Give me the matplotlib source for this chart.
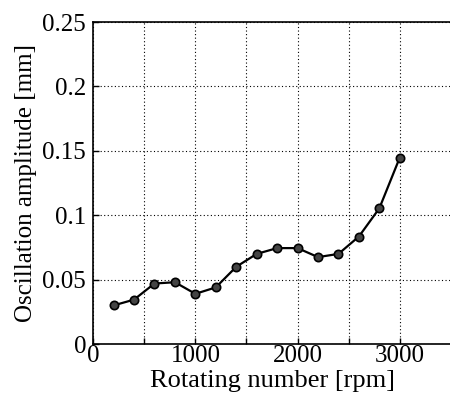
import matplotlib
matplotlib.use("Agg")
import matplotlib.pyplot as plt

plt.rcParams['font.family'] = ['Liberation Serif', 'DejaVu Serif']

rpm = [200, 400, 600, 800, 1000, 1200, 1400, 1600, 1800, 2000,
       2200, 2400, 2600, 2800, 3000]
amplitude = [0.030, 0.0345, 0.047, 0.048, 0.039, 0.044, 0.060, 0.070,
             0.0745, 0.0745, 0.0675, 0.070, 0.0835, 0.1054, 0.1448]

x_ticks = [0, 1000, 2000, 3000]
y_ticks = [0, 0.05, 0.1, 0.15, 0.2, 0.25]
y_tick_labels = ["0", "0.05", "0.1", "0.15", "0.2", "0.25"]

fig = plt.figure(figsize=(4.5, 4.01), dpi=100)
ax = fig.add_axes([0.207, 0.142, 0.795, 0.803])

ax.plot(rpm, amplitude, color="black", linewidth=1.6, marker="o",
        markersize=6, markerfacecolor="#444444", markeredgecolor="black",
        markeredgewidth=1.2, zorder=3)

ax.set_xlim(0, 3500)
ax.set_ylim(0, 0.25)
ax.set_xticks(x_ticks)
ax.set_xticks([500, 1500, 2500, 3500], minor=True)
ax.set_yticks(y_ticks)
ax.set_yticklabels(y_tick_labels)

ax.grid(True, which="both", linestyle=(0, (1, 2.2)), color="black", linewidth=0.8)
ax.tick_params(which="both", direction="in", length=4, labelsize=18, width=1)
ax.tick_params(axis="x", pad=1)
ax.tick_params(axis="y", pad=5)
ax.spines["right"].set_visible(False)
for s in ["left", "bottom", "top"]:
    ax.spines[s].set_linewidth(1.2)

ax.set_xlabel("Rotating number [rpm]", fontsize=19, labelpad=2)
ax.set_ylabel("Oscillation amplitude [mm]", fontsize=18, labelpad=4)

fig.savefig("out.png", dpi=100)
